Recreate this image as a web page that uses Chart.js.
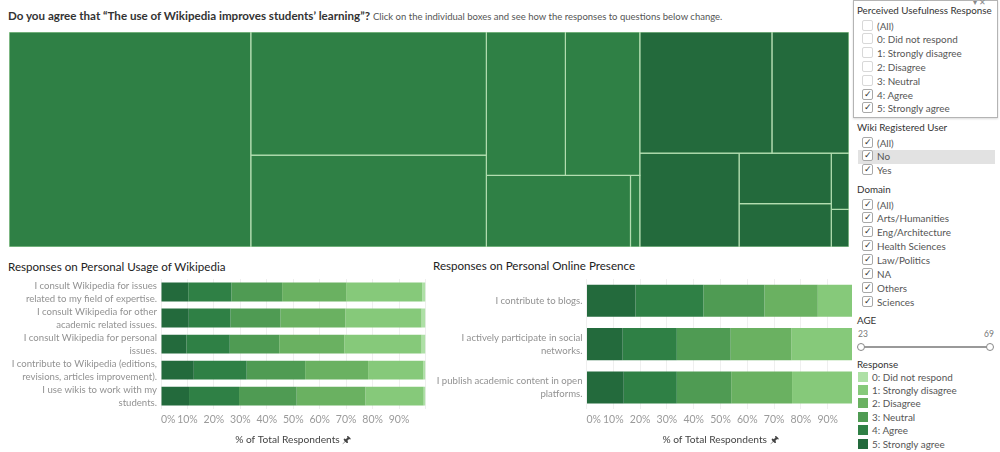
<!DOCTYPE html>
<html><head><meta charset="utf-8">
<script src="https://cdn.jsdelivr.net/npm/chart.js@4.4.0/dist/chart.umd.min.js"></script>
<style>
html,body{margin:0;padding:0;background:#fff;width:1000px;height:452px;overflow:hidden;font-family:Lato,'Open Sans',sans-serif;}
#page{position:relative;width:1000px;height:452px;}
.abs{position:absolute;white-space:nowrap;}
#title{left:8px;top:9px;font-size:11.6px;color:#333;}
#title .main{font-weight:700;}
#title .sub{font-size:9.5px;color:#555;}
.ctitle{font-size:11.6px;color:#222;font-weight:400;}
#tmWrap{left:8px;top:31px;width:842px;height:217px;}
#leftWrap{left:0;top:270px;width:430px;height:182px;}
#rightWrap{left:430px;top:270px;width:422px;height:182px;overflow:hidden;}
#side{left:852px;top:0;width:148px;height:452px;background:#fff;}
.box{position:absolute;left:1px;top:0;width:143px;height:116px;border:1px solid #b4b4b4;box-shadow:0 1px 2px rgba(0,0,0,0.15);}
.stitle{position:absolute;left:5px;font-size:9.8px;color:#333;}
.item{position:absolute;left:10px;font-size:9.9px;color:#555;height:13px;line-height:13px;}
.cb{display:inline-block;width:9px;height:9px;border:1px solid #a8a8a8;border-radius:2px;margin-right:4px;vertical-align:-1px;position:relative;background:#fff;}
.cb.off{border-color:#d8d8d8;}
.cb.on::after{content:'\2713';position:absolute;left:1px;top:-3px;font-size:9px;color:#333;}
.sw{display:inline-block;width:10px;height:10px;margin-right:4px;vertical-align:-1px;}
</style>
</head><body><div id="page">
<div id="title" class="abs"><span class="main">Do you agree that “The use of Wikipedia improves students’ learning”?</span> <span class="sub">Click on the individual boxes and see how the responses to questions below change.</span></div>
<div id="tmWrap" class="abs"><canvas id="tm" width="842" height="217"></canvas></div>
<div class="abs ctitle" style="left:8px;top:260px;">Responses on Personal Usage of Wikipedia</div>
<div class="abs ctitle" style="left:433px;top:259px;">Responses on Personal Online Presence</div>
<div id="leftWrap" class="abs"><canvas id="left" width="430" height="182"></canvas></div>
<div id="rightWrap" class="abs"><canvas id="right" width="432" height="182"></canvas></div>
<div id="side" class="abs"></div>
</div>
<script>
// ---------- DATA ----------
const responseLabels = ['5: Strongly agree', '4: Agree', '3: Neutral', '2: Disagree', '1: Strongly disagree', '0: Did not respond'];
const responseColors = ['#236a3c', '#2f8045', '#4f9b53', '#6ab161', '#86c97a', '#aee0a6'];

const tmGroups = ['4: Agree', '5: Strongly agree'];
const tmGroupColors = ['#2f8045', '#236a3c'];
const tmAgreeDomains = ['Others', 'Arts/Humanities', 'Sciences', 'Eng/Architecture', 'Health Sciences', 'Law/Politics', 'NA'];
const tmAgreeCounts = [156, 87, 65, 34, 32, 31, 2];
const tmStrongDomains = ['Others', 'Arts/Humanities', 'Sciences', 'Eng/Architecture', 'Health Sciences', 'Law/Politics', 'NA'];
const tmStrongCounts = [48, 28, 28, 14, 12, 3, 2];
// arrangement of the cells (h = side by side, v = stacked), leaves are indexes
const tmAgreeArrangement = ['h', 0, ['v', 1, 2], ['v', ['h', 3, 4], ['h', 5, 6]]];
const tmStrongArrangement = ['v', ['h', 0, 1], ['h', 2, ['v', 3, 4], ['v', 5, 6]]];

const usageQuestions = [
  ['I consult Wikipedia for issues', 'related to my field of expertise.'],
  ['I consult Wikipedia for other', 'academic related issues.'],
  ['I consult Wikipedia for personal', 'issues.'],
  ['I contribute to Wikipedia (editions,', 'revisions, articles improvement).'],
  ['I use wikis to work with my', 'students.']
];
const usage5 = [10.3, 10.5, 9.6, 12.4, 10.6];
const usage4 = [16.3, 15.8, 16.4, 20.0, 18.9];
const usage3 = [19.2, 18.9, 18.7, 22.1, 21.8];
const usage2 = [24.2, 24.5, 24.6, 23.8, 26.0];
const usage1 = [28.8, 28.8, 29.2, 20.9, 22.0];
const usage0 = [1.2, 1.5, 1.5, 0.8, 0.7];

const presenceQuestions = [
  'I contribute to blogs.',
  ['I actively participate in social', 'networks.'],
  ['I publish academic content in open', 'platforms.']
];
const presence5 = [18.3, 13.5, 13.9];
const presence4 = [25.3, 20.2, 19.8];
const presence3 = [22.8, 20.1, 20.3];
const presence2 = [19.9, 22.6, 22.7];
const presence1 = [12.9, 22.8, 22.6];
const presence0 = [0.8, 0.8, 0.7];

const xTicks = [0, 10, 20, 30, 40, 50, 60, 70, 80, 90];
const axisTitle = '% of Total Respondents \u{1F588}';

// ---------- TREEMAP ----------
function nodeSum(node, counts) {
  return typeof node === 'number' ? counts[node] : node.slice(1).reduce((s, c) => s + nodeSum(c, counts), 0);
}
function place(node, counts, x0, y0, x1, y1, out) {
  if (typeof node === 'number') { out.push({i: node, x0, y0, x1, y1}); return; }
  const dir = node[0], kids = node.slice(1), total = nodeSum(node, counts);
  let acc = 0;
  kids.forEach(k => {
    const f0 = acc / total; acc += nodeSum(k, counts); const f1 = acc / total;
    if (dir === 'h') place(k, counts, x0 + (x1 - x0) * f0, y0, x0 + (x1 - x0) * f1, y1, out);
    else place(k, counts, x0, y0 + (y1 - y0) * f0, x1, y0 + (y1 - y0) * f1, out);
  });
}
(function () {
  const cv = document.getElementById('tm');
  const W = (cv.width - 2) / (cv.height - 2), H = 1;
  const sA = tmAgreeCounts.reduce((a, b) => a + b, 0), sS = tmStrongCounts.reduce((a, b) => a + b, 0);
  const split = W * sA / (sA + sS);
  const groups = [
    {arr: tmAgreeArrangement, counts: tmAgreeCounts, names: tmAgreeDomains, color: tmGroupColors[0], g: tmGroups[0], box: [0, 0, split, H]},
    {arr: tmStrongArrangement, counts: tmStrongCounts, names: tmStrongDomains, color: tmGroupColors[1], g: tmGroups[1], box: [split, 0, W, H]}
  ];
  const datasets = [];
  groups.forEach(gr => {
    const out = [];
    place(gr.arr, gr.counts, gr.box[0], gr.box[1], gr.box[2], gr.box[3], out);
    out.forEach(r => {
      datasets.push({
        label: gr.g + ' – ' + gr.names[r.i] + ': ' + gr.counts[r.i],
        data: [{x: r.x0, y: r.y0}, {x: r.x1, y: r.y0}, {x: r.x1, y: r.y1}, {x: r.x0, y: r.y1}, {x: r.x0, y: r.y0}],
        fill: 'shape', backgroundColor: gr.color, borderColor: '#b3ddb0', borderWidth: 1.2,
        pointRadius: 0, pointHoverRadius: 0, tension: 0
      });
    });
  });
  new Chart(cv, {
    type: 'line',
    data: {datasets},
    options: {
      responsive: false, animation: false,
      layout: {padding: 1},
      plugins: {legend: {display: false}, tooltip: {enabled: false}},
      scales: {
        x: {type: 'linear', min: 0, max: W, display: false},
        y: {type: 'linear', min: 0, max: H, reverse: true, display: false}
      }
    }
  });
})();

// ---------- BARS ----------
function barChart(id, labels, series, yWidth, padRight, barPct) {
  const datasets = series.map((d, i) => ({
    label: responseLabels[i], data: d, backgroundColor: responseColors[i],
    borderWidth: 0, barPercentage: barPct, categoryPercentage: 1
  }));
  return new Chart(document.getElementById(id), {
    type: 'bar',
    data: {labels, datasets},
    options: {
      indexAxis: 'y', responsive: false, animation: false,
      layout: {padding: {top: 9, right: padRight, bottom: 4, left: 0}},
      plugins: {legend: {display: false}},
      scales: {
        x: {
          stacked: true, min: 0, max: 100,
          afterBuildTicks: s => { s.ticks = xTicks.concat([100]).map(v => ({value: v})); },
          ticks: {
            callback: v => (xTicks.indexOf(v) >= 0 ? v + '%' : ''),
            color: '#9a9a9a', font: {family: 'Lato', size: 10.5}, padding: 4, maxRotation: 0, autoSkip: false, align: 'inner'
          },
          grid: {color: '#efefef', drawTicks: false},
          border: {display: false},
          title: {display: true, text: axisTitle, color: '#444', font: {family: 'Lato', size: 10.2}, padding: {top: 4, bottom: 2}}
        },
        y: {
          stacked: true,
          afterFit: s => { s.width = yWidth; s.paddingTop = 0; s.paddingBottom = 0; },
          ticks: {color: '#929292', font: {family: 'Lato', size: 9.6, lineHeight: 1.35}, padding: 4, autoSkip: false},
          grid: {display: false, drawTicks: false}, border: {display: false}
        }
      }
    }
  });
}
barChart('left', usageQuestions, [usage5, usage4, usage3, usage2, usage1, usage0], 161, 4.5, 0.725);
barChart('right', presenceQuestions, [presence5, presence4, presence3, presence2, presence1, presence0], 156.5, 7.5, 0.74);

// ---------- SIDEBAR (filters & legend) ----------
const filterUsefulness = [['(All)', 0], ['0: Did not respond', 0], ['1: Strongly disagree', 0], ['2: Disagree', 0], ['3: Neutral', 0], ['4: Agree', 1], ['5: Strongly agree', 1]];
const filterRegistered = [['(All)', 1], ['No', 1], ['Yes', 1]];
const filterDomain = [['(All)', 1], ['Arts/Humanities', 1], ['Eng/Architecture', 1], ['Health Sciences', 1], ['Law/Politics', 1], ['NA', 1], ['Others', 1], ['Sciences', 1]];
const ageRange = [23, 69];
(function () {
  const side = document.getElementById('side');
  let h = '<div class="box"></div>';
  h += '<div style="position:absolute;left:62px;top:-4px;font-size:7px;color:#aaa;">⋯⋯</div>';
  h += '<div style="position:absolute;left:121px;top:-3px;font-size:8px;color:#888;">▾ ✕</div>';
  function title(t, y) { h += `<div class="stitle" style="top:${y - 7}px">${t}</div>`; }
  function items(list, y0, step) {
    list.forEach((it, i) => {
      h += `<div class="item" style="top:${y0 + i * step - 6.5}px"><span class="cb ${it[1] ? 'on' : 'off'}"></span>${it[0]}</div>`;
    });
  }
  title('Perceived Usefulness Response', 11);
  items(filterUsefulness, 26, 13.8);
  title('Wiki Registered User', 128);
  h += '<div style="position:absolute;left:6px;top:150px;width:137px;height:14px;background:#e2e2e2;"></div>';
  items(filterRegistered, 143, 13.6);
  title('Domain', 190);
  items(filterDomain, 205, 13.9);
  title('AGE', 321);
  h += `<div style="position:absolute;left:6px;top:329px;font-size:8.5px;color:#777;">${ageRange[0]}</div>`;
  h += `<div style="position:absolute;left:132px;top:329px;font-size:8.5px;color:#777;">${ageRange[1]}</div>`;
  h += '<div style="position:absolute;left:9px;top:346px;width:128px;height:2px;background:#999;"></div>';
  h += '<div style="position:absolute;left:5px;top:343px;width:6px;height:6px;border:1px solid #888;border-radius:50%;background:#fff;"></div>';
  h += '<div style="position:absolute;left:134px;top:343px;width:6px;height:6px;border:1px solid #888;border-radius:50%;background:#fff;"></div>';
  title('Response', 365);
  const legendOrder = responseLabels.slice().reverse();
  const legendColors = responseColors.slice().reverse();
  legendOrder.forEach((t, i) => {
    h += `<div class="item" style="left:6px;top:${377 + i * 13.4 - 6.5}px"><span class="sw" style="background:${legendColors[i]}"></span>${t}</div>`;
  });
  side.innerHTML = h;
})();
</script>
</body></html>
